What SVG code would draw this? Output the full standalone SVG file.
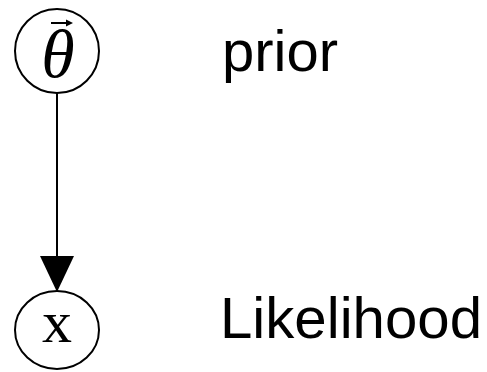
<svg xmlns="http://www.w3.org/2000/svg" width="487" height="372" viewBox="0 0 487 372">
<defs>
<style>
.node{fill:#fff;stroke:#000;stroke-width:2}
.lbl{font-family:"Liberation Sans",Arial,sans-serif;font-size:57px;fill:#000}
.math{font-family:"Liberation Serif","Times New Roman",serif;fill:#000}
</style>
</defs>
<rect width="487" height="372" fill="#fff"/>
<g id="connectors">
<line x1="57" y1="93" x2="57" y2="262" stroke="#000" stroke-width="2"/>
<path d="M40,256 L74,256 L57,292 Z" fill="#000"/>
</g>
<g id="theta">
<circle class="node" cx="57" cy="51" r="42"/>
<text class="math" x="58" y="77" font-size="68" font-style="italic" text-anchor="middle">θ</text>
<path d="M51,23 L68,23" stroke="#000" stroke-width="2"/>
<path d="M66,19.5 L73,23 L66,26.5 Z" fill="#000"/>
</g>
<g id="x">
<ellipse class="node" cx="57" cy="330" rx="42" ry="39"/>
<text class="math" x="57" y="342" font-size="60" text-anchor="middle">x</text>
</g>
<g id="labels">
<text class="lbl" x="222" y="71" textLength="116" lengthAdjust="spacingAndGlyphs">prior</text>
<text class="lbl" x="220" y="338" textLength="262" lengthAdjust="spacingAndGlyphs">Likelihood</text>
</g>
</svg>
